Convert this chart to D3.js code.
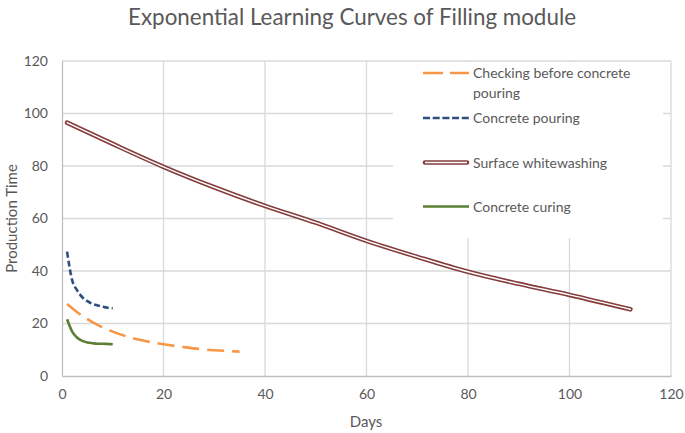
<!DOCTYPE html>
<html>
<head>
<meta charset="utf-8">
<script src="https://cdn.jsdelivr.net/npm/d3@7"></script>
<style>
  html, body { margin: 0; padding: 0; background: #fff; }
  svg { display: block; font-family: Lato, "Open Sans", sans-serif; }
</style>
</head>
<body>
<svg id="chart" width="685" height="433"></svg>
<script>
// ---- data ----
const chartTitle = "Exponential Learning Curves of Filling module";
const xTicks = [0, 20, 40, 60, 80, 100, 120];
const yTicks = [0, 20, 40, 60, 80, 100, 120];
const seriesNames = ["Checking before concrete pouring", "Concrete pouring", "Surface whitewashing", "Concrete curing"];

const checkingDays   = [1, 3, 5, 7, 10, 13, 16, 20, 24, 28, 32, 35];
const checkingValues = [27.4, 24.3, 21.7, 19.5, 16.9, 14.9, 13.5, 12.1, 11.0, 10.1, 9.6, 9.3];

const pouringDays   = [1, 2, 3, 4, 5, 6, 7, 8, 9, 10];
const pouringValues = [47.4, 36.5, 32.6, 30.0, 28.5, 27.5, 26.9, 26.4, 26.0, 25.8];

const whitewashDays   = [1, 10, 20, 30, 40, 50, 60, 70, 80, 90, 100, 112];
const whitewashValues = [96.5, 88.4, 79.7, 71.9, 64.8, 58.4, 51.5, 45.4, 39.7, 35.1, 30.9, 25.4];

const curingDays   = [1, 2, 3, 4, 5, 6, 7, 8, 9, 10];
const curingValues = [21.6, 16.9, 14.6, 13.4, 12.8, 12.5, 12.3, 12.3, 12.2, 12.1];

// ---- layout ----
const svg = d3.select("#chart");
const L = 62, R = 671, T = 61, B = 376;
const x = d3.scaleLinear().domain([0, 120]).range([L, R]);
const y = d3.scaleLinear().domain([0, 120]).range([B, T]);
const textCol = "#595959";
const gridCol = "#d9d9d9";

// title
svg.append("text").attr("x", 352).attr("y", 25)
  .attr("text-anchor", "middle").attr("font-size", 22.4).attr("fill", textCol)
  .text(chartTitle);

// gridlines
svg.append("g").selectAll("line.h").data(yTicks.filter(d => d > 0)).join("line")
  .attr("x1", L).attr("x2", R).attr("y1", d => y(d)).attr("y2", d => y(d))
  .attr("stroke", gridCol).attr("stroke-width", 1.3);
svg.append("g").selectAll("line.v").data(xTicks.filter(d => d > 0)).join("line")
  .attr("x1", d => x(d)).attr("x2", d => x(d)).attr("y1", T).attr("y2", B)
  .attr("stroke", gridCol).attr("stroke-width", 1.3);

// axes
const xAxis = svg.append("g").attr("transform", `translate(0,${B})`)
  .call(d3.axisBottom(x).tickValues(xTicks).tickSize(0).tickPadding(13));
const yAxis = svg.append("g").attr("transform", `translate(${L},0)`)
  .call(d3.axisLeft(y).tickValues(yTicks).tickSize(0).tickPadding(14));
[xAxis, yAxis].forEach(a => {
  a.select(".domain").attr("stroke", "#bfbfbf").attr("stroke-width", 1.3);
  a.selectAll("text").attr("font-size", 14).attr("fill", textCol)
    .attr("font-family", "Lato, 'Open Sans', sans-serif");
});

// axis titles
svg.append("text").attr("x", 366).attr("y", 427).attr("text-anchor", "middle")
  .attr("font-size", 15).attr("fill", textCol).text("Days");
svg.append("text").attr("transform", `translate(17,${(T + B) / 2}) rotate(-90)`)
  .attr("text-anchor", "middle").attr("font-size", 15).attr("fill", textCol)
  .text("Production Time");

// legend background (occludes gridlines)
svg.append("rect").attr("x", 393).attr("y", 62).attr("width", 270).attr("height", 176)
  .attr("fill", "#fff");

// ---- series ----
const line = d3.line().x(d => x(d[0])).y(d => y(d[1])).curve(d3.curveMonotoneX);
const zipped = (ds, vs) => ds.map((d, i) => [d, vs[i]]);

const styles = [
  { color: "#F79646", width: 2.6, dash: "17,8" },
  { color: "#2E4F7F", width: 2.6, dash: "6,3" },
  { color: "#843C3C", width: 4.6, dash: null, double: true },
  { color: "#5B7F35", width: 2.6, dash: null }
];
const seriesData = [
  zipped(checkingDays, checkingValues),
  zipped(pouringDays, pouringValues),
  zipped(whitewashDays, whitewashValues),
  zipped(curingDays, curingValues)
];

seriesData.forEach((data, i) => {
  const s = styles[i];
  const p = svg.append("path").datum(data).attr("d", line)
    .attr("fill", "none").attr("stroke", s.color).attr("stroke-width", s.width)
    .attr("stroke-linejoin", "round");
  if (s.dash) p.attr("stroke-dasharray", s.dash);
  if (s.double) {
    p.attr("stroke-linecap", "round");
    svg.append("path").datum(data).attr("d", line)
      .attr("fill", "none").attr("stroke", "#fff").attr("stroke-width", 1.4)
      .attr("stroke-linecap", "round");
  }
});

// ---- legend ----
const legendRows = [
  { lines: ["Checking before concrete", "pouring"], y: 73 },
  { lines: ["Concrete pouring"], y: 118 },
  { lines: ["Surface whitewashing"], y: 162.5 },
  { lines: ["Concrete curing"], y: 206.5 }
];
legendRows.forEach((row, i) => {
  const s = styles[i];
  const sym = svg.append("line").attr("x1", 423).attr("x2", 469)
    .attr("y1", row.y).attr("y2", row.y)
    .attr("stroke", s.color).attr("stroke-width", s.width);
  if (s.dash) sym.attr("stroke-dasharray", i === 0 ? "20,7" : "7,2.7");
  if (s.double) {
    sym.attr("stroke-linecap", "round").attr("x1", 425).attr("x2", 467);
    svg.append("line").attr("x1", 425).attr("x2", 467)
      .attr("y1", row.y).attr("y2", row.y)
      .attr("stroke", "#fff").attr("stroke-width", 1.4);
  }
  row.lines.forEach((t, k) => {
    svg.append("text").attr("x", 473).attr("y", row.y + 5 + k * 19.5)
      .attr("font-size", 14).attr("fill", textCol).text(t);
  });
});
</script>
</body>
</html>
